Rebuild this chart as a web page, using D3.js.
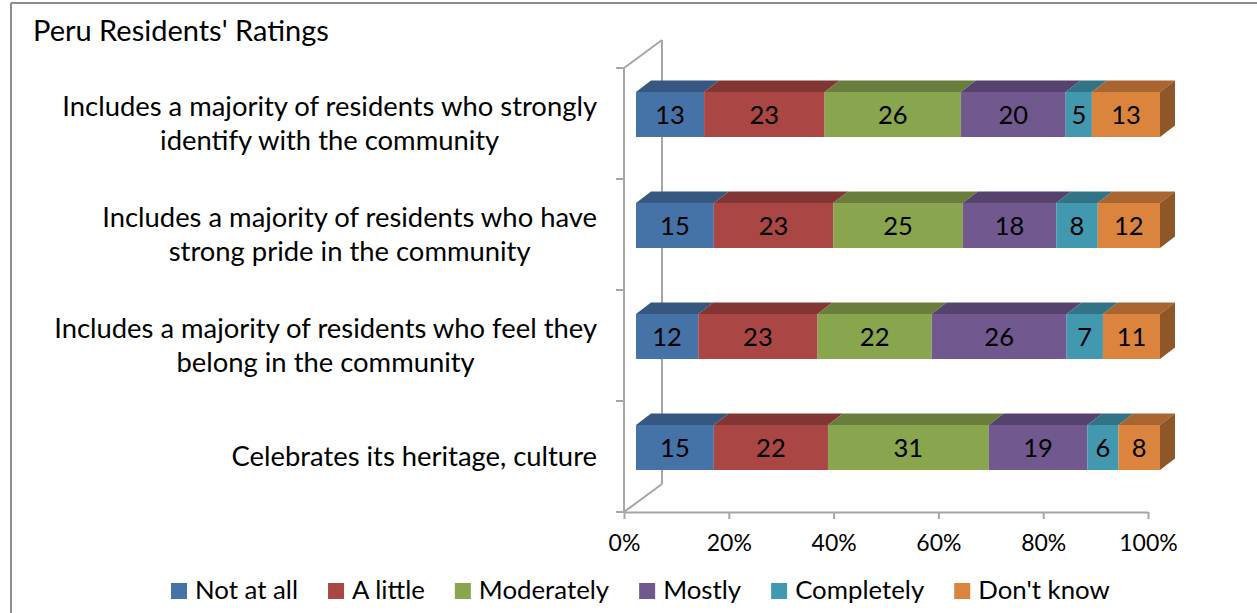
<!DOCTYPE html>
<html>
<head>
<meta charset="utf-8">
<script src="https://cdn.jsdelivr.net/npm/d3@7"></script>
<style>
  html, body { margin: 0; padding: 0; background: #fff; }
  svg { display: block; font-family: Lato, "Open Sans", sans-serif; }
</style>
</head>
<body>
<svg id="chart" width="1257" height="613"></svg>
<script>
// ---- data ----
const categoryLines = [
  ["Includes a majority of residents who strongly", "identify with the community"],
  ["Includes a majority of residents who have", "strong pride in the community"],
  ["Includes a majority of residents who feel they", "belong in the community"],
  ["Celebrates its heritage, culture"]
];
const seriesNames = ["Not at all", "A little", "Moderately", "Mostly", "Completely", "Don't know"];
const notAtAll   = [13, 15, 12, 15];
const aLittle    = [23, 23, 23, 22];
const moderately = [26, 25, 22, 31];
const mostly     = [20, 18, 26, 19];
const completely = [5, 8, 7, 6];
const dontKnow   = [13, 12, 11, 8];
const tickValues = [0, 0.2, 0.4, 0.6, 0.8, 1.0];
const titleText = "Peru Residents' Ratings";

const seriesValues = [notAtAll, aLittle, moderately, mostly, completely, dontKnow];
const frontColors = ["#4572A7", "#AA4643", "#89A54E", "#71588F", "#4198AF", "#DB843D"];

// ---- layout ----
const svg = d3.select("#chart");
const plot = { left: 624, right: 1148, top: 68, bottom: 512 };
const wallDepth = { dx: 38, dy: -28 };   // back wall offset
const barShift = { dx: 12, dy: -9 };     // bar placement inside the depth
const barDepth = { dx: 15, dy: -11.5 };  // bar thickness in depth
const barHeight = 45;
const gridColor = "#A6A6A6";

const cats = categoryLines.map(l => l.join(" "));
const rows = cats.map((c, i) => {
  const r = { cat: c };
  seriesNames.forEach((s, j) => r[s] = seriesValues[j][i]);
  return r;
});

const stack = d3.stack().keys(seriesNames).offset(d3.stackOffsetExpand);
const stacked = stack(rows);

const x = d3.scaleLinear().domain([0, 1]).range([plot.left, plot.right]);
const y = d3.scaleBand().domain(cats).range([plot.top, plot.bottom]).padding(0);
const color = d3.scaleOrdinal().domain(seriesNames).range(frontColors);

// outer frame
svg.append("line").attr("x1", 11).attr("x2", 1257).attr("y1", 3).attr("y2", 3)
  .attr("stroke", "#8c8c8c").attr("stroke-width", 2);
svg.append("line").attr("x1", 11).attr("x2", 11).attr("y1", 3).attr("y2", 613)
  .attr("stroke", "#8c8c8c").attr("stroke-width", 2);

// title
svg.append("text").attr("x", 33).attr("y", 41)
  .attr("font-size", 29).attr("fill", "#000").text(titleText);

// side wall outline
const wall = svg.append("g").attr("stroke", gridColor).attr("stroke-width", 2).attr("fill", "none");
wall.append("line").attr("x1", plot.left).attr("y1", plot.top).attr("x2", plot.left).attr("y2", plot.bottom);
wall.append("line").attr("x1", plot.left + wallDepth.dx).attr("y1", plot.top + wallDepth.dy)
  .attr("x2", plot.left + wallDepth.dx).attr("y2", plot.bottom + wallDepth.dy);
wall.append("line").attr("x1", plot.left).attr("y1", plot.top)
  .attr("x2", plot.left + wallDepth.dx).attr("y2", plot.top + wallDepth.dy);
wall.append("line").attr("x1", plot.left).attr("y1", plot.bottom)
  .attr("x2", plot.left + wallDepth.dx).attr("y2", plot.bottom + wallDepth.dy);

// category tick marks at band edges
const edges = cats.map(c => y(c)).concat([plot.bottom]);
wall.selectAll(".ctick").data(edges).enter().append("line")
  .attr("x1", plot.left - 8).attr("x2", plot.left).attr("y1", d => d).attr("y2", d => d);

// value axis
const xAxis = d3.axisBottom(x).tickValues(tickValues).tickFormat(d3.format(".0%")).tickSizeInner(7).tickSizeOuter(0);
const gx = svg.append("g").attr("transform", `translate(0,${plot.bottom})`).call(xAxis);
gx.select(".domain").attr("stroke", gridColor).attr("stroke-width", 2);
gx.selectAll(".tick line").attr("stroke", gridColor).attr("stroke-width", 2);
gx.selectAll(".tick text").attr("font-family", "Lato").attr("font-size", 23).attr("fill", "#000").attr("dy", "1.25em");

// category labels: centred lines, block right-aligned
const labG = svg.append("g").attr("font-size", 27.4).attr("fill", "#000");
categoryLines.forEach((lines, i) => {
  const cy = y(cats[i]) + y.bandwidth() / 2;
  const lh = 34;
  const t = labG.append("text").attr("text-anchor", "middle");
  lines.forEach((ln, k) => {
    t.append("tspan").attr("x", 0).attr("y", cy + (k - (lines.length - 1) / 2) * lh).attr("dy", "0.35em").text(ln);
  });
  const w = d3.max(t.selectAll("tspan").nodes(), n => n.getComputedTextLength());
  t.attr("transform", `translate(${597 - w / 2},0)`);
});

// bars
const barsG = svg.append("g");
const darker = (c, k) => d3.rgb(c).darker(k).formatHex();
stacked.forEach((layer, si) => {
  layer.forEach((d, ri) => {
    const cy = y(cats[ri]) + y.bandwidth() / 2 + barShift.dy;
    const x0 = x(d[0]) + barShift.dx, x1 = x(d[1]) + barShift.dx;
    const y0 = cy - barHeight / 2, y1 = cy + barHeight / 2;
    const c = color(seriesNames[si]);
    // top face
    barsG.append("path")
      .attr("d", `M${x0},${y0}L${x0 + barDepth.dx},${y0 + barDepth.dy}L${x1 + barDepth.dx},${y0 + barDepth.dy}L${x1},${y0}Z`)
      .attr("fill", darker(c, 0.75));
    // front face
    barsG.append("rect").attr("x", x0).attr("y", y0).attr("width", x1 - x0).attr("height", barHeight)
      .attr("fill", c);
    // right end face
    if (si === seriesNames.length - 1) {
      barsG.append("path")
        .attr("d", `M${x1},${y0}L${x1 + barDepth.dx},${y0 + barDepth.dy}L${x1 + barDepth.dx},${y1 + barDepth.dy}L${x1},${y1}Z`)
        .attr("fill", darker(c, 1.2));
    }
    // value label
    barsG.append("text").attr("x", (x0 + x1) / 2).attr("y", cy).attr("dy", "0.36em")
      .attr("text-anchor", "middle").attr("font-size", 25.5).attr("fill", "#000")
      .text(seriesValues[si][ri]);
  });
});

// legend
const legG = svg.append("g").attr("font-size", 25.8);
let lx = 171;
seriesNames.forEach((s, i) => {
  legG.append("rect").attr("x", lx).attr("y", 583).attr("width", 16).attr("height", 16).attr("fill", color(s));
  const t = legG.append("text").attr("x", lx + 24).attr("y", 599).attr("fill", "#000").text(s);
  lx += 24 + t.node().getComputedTextLength() + 30;
});
</script>
</body>
</html>
